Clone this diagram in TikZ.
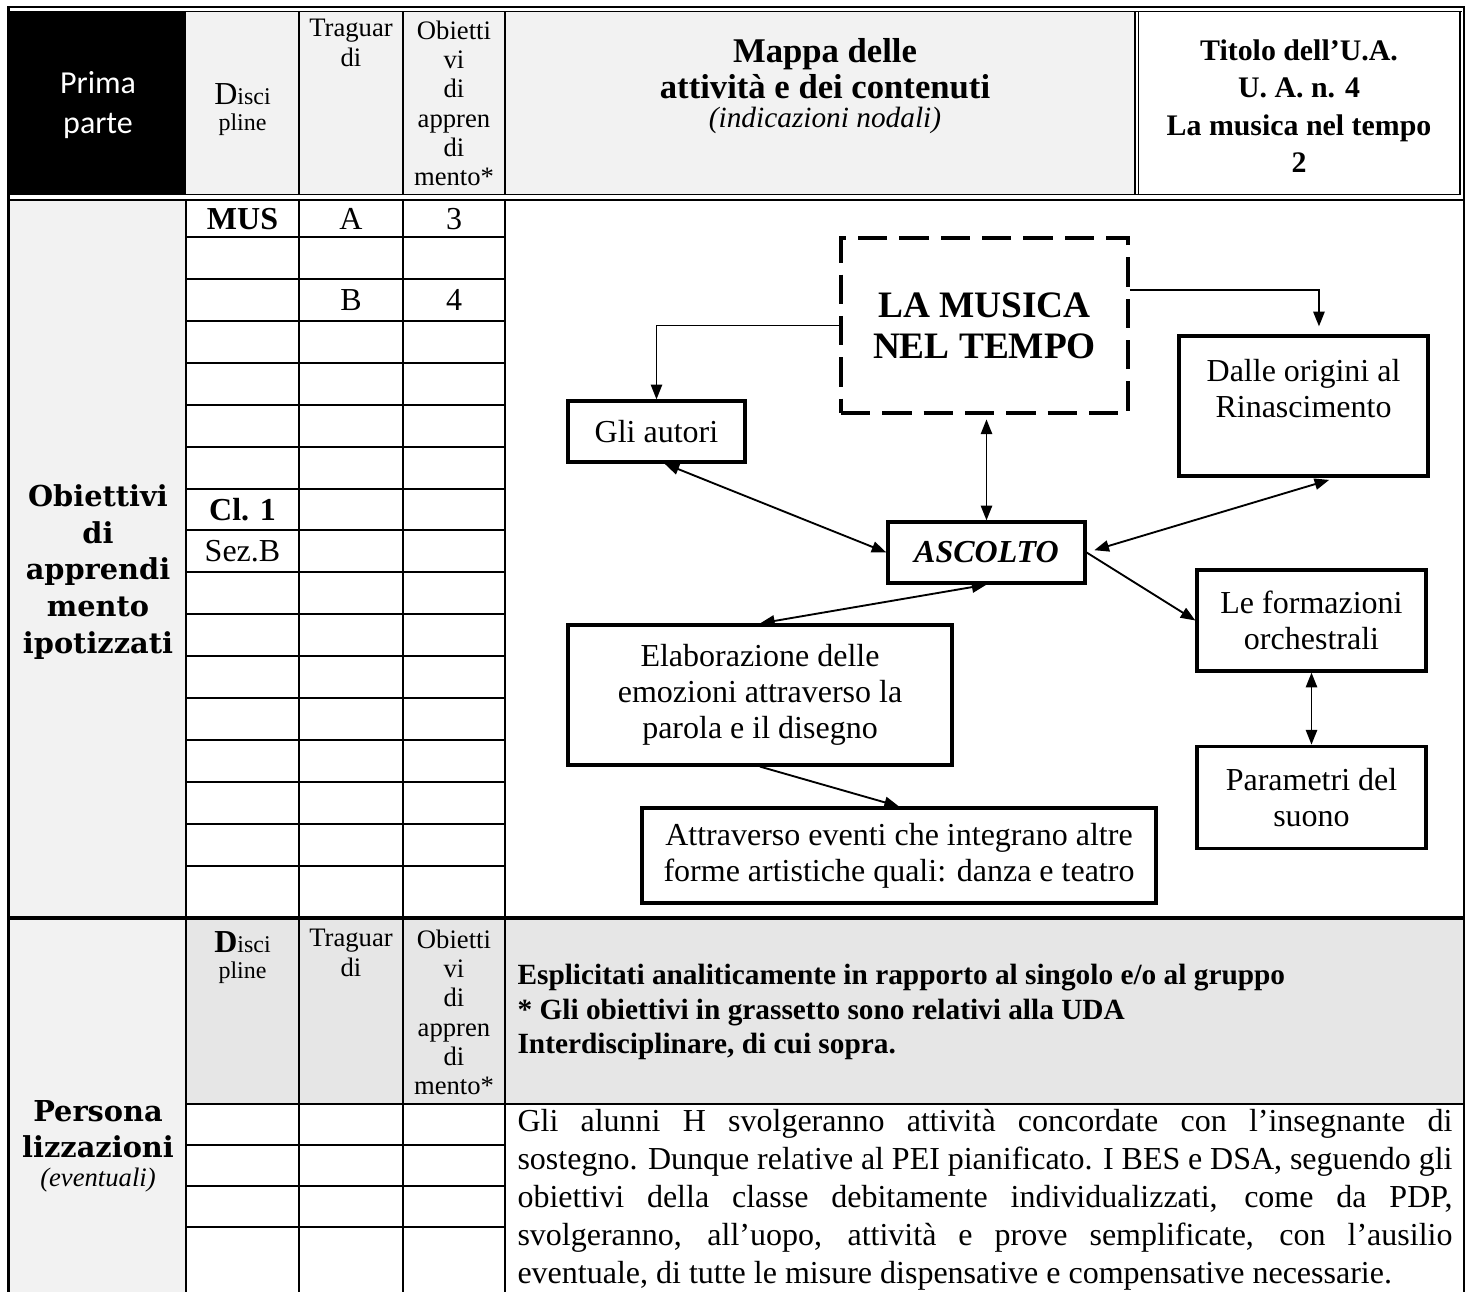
\documentclass[tikz,border=0pt]{standalone}
\usepackage{fontspec}
\setmainfont{Liberation Serif}
\newfontfamily\carlito{Carlito}
\newfontfamily\dejaserif{DejaVu Serif}
\usetikzlibrary{arrows.meta, positioning}
\definecolor{headgray}{HTML}{F2F2F2}
\definecolor{notegray}{HTML}{E6E6E6}
\NewDocumentCommand{\fsize}{mm}{\fontsize{#1}{#2}\selectfont}

\begin{document}
\begin{tikzpicture}[x=0.375pt, y=-0.375pt,
        box/.style = {draw, line width=1.2pt, align=center, inner sep=0pt,
                      font=\fsize{12}{13.5}},
        arr/.style = {line width=0.7pt, -{Triangle[length=5.5pt, width=4.2pt]}},
        both/.style = {line width=0.7pt,
                       {Triangle[length=5.5pt, width=4.2pt]}-{Triangle[length=5.5pt, width=4.2pt]}},
        rule/.style = {line width=1.1pt},
        thin/.style = {line width=0.75pt},
        cell/.style = {align=center, inner sep=0pt, font=\fsize{12}{13.8}},
        small/.style = {align=center, inner sep=0pt, font=\fsize{10}{11}}]
    \useasboundingbox (0,0) rectangle (1472,1292);

    % table background
    \fill[black] (10,11) rectangle (186,195);
    \fill[headgray] (186,11) rectangle (1136,195);
    \fill[headgray] (10,200) rectangle (186,1292);
    \fill[notegray] (186,918) rectangle (1463,1104);

    % table rules
    \draw[line width=0.9pt] (7,7) -- (1465,7);
    \draw[line width=0.45pt] (10,11.5) -- (1462,11.5);
    \draw[rule] (8.5,7) -- (8.5,1292);
    \draw[line width=0.8pt] (1464,7) -- (1464,1292);
    \draw[line width=0.4pt] (1460,11.5) -- (1460,194.5);
    \draw[line width=0.4pt] (1135,11.5) -- (1135,194.5);
    \draw[line width=0.4pt] (1138.5,11.5) -- (1138.5,194.5);
    \draw[line width=0.4pt] (10,194.5) -- (1460,194.5);
    \draw[rule] (8,200) -- (1464,200);
    \foreach \x in {299,403,505}
        \draw[rule] (\x,11.5) -- (\x,194.5);
    \foreach \x in {186,299,403,505}
        \draw[rule] (\x,200) -- (\x,1292);
    \foreach \y in {237,279,321,363,405,447,489,530,572,614,656,698,740,782,824,866}
        \draw[thin] (186,\y) -- (505,\y);
    \draw[line width=1.5pt] (8,918) -- (1464,918);
    \draw[rule] (186,1104) -- (1464,1104);
    \foreach \y in {1145,1186,1227}
        \draw[thin] (186,\y) -- (505,\y);

    % header texts
    \node[text=white, align=center, font=\carlito\fsize{12}{15}] (prima) at (98,105) {Prima\\parte};
    \node[align=center, inner sep=0pt, font=\fsize{9}{9.75}] (disc) at (242.5,110) {{\fsize{12}{9.75}D}isci\\pline};
    \node[small] (trag) at (351,43) {Traguar\\di};
    \node[small] (obie) at (454,103.5) {Obietti\\vi\\di\\appren\\di\\mento*};
    \node[align=center, inner sep=0pt, font=\bfseries\fsize{13}{13.5}] (mappa) at (825,69) {Mappa delle\\attività e dei contenuti};
    \node[inner sep=0pt, font=\itshape\fsize{11}{12}] (nodali) at (825,120) {(indicazioni nodali)};
    \node[align=center, inner sep=0pt, font=\bfseries\fsize{11.2}{14}] (titolo) at (1299,106) {Titolo dell’U.A.\\U. A. n. 4\\La musica nel tempo\\2};

    % left column
    \node[align=center, font=\dejaserif\bfseries\fsize{10.8}{13.7}] (obiettivi) at (98,572) {Obiettivi\\di\\apprendi\\mento\\ipotizzati};
    \node[align=center, font=\dejaserif\bfseries\fsize{10.8}{13.7}] (persona) at (98,1129) {Persona\\lizzazioni};
    \node[inner sep=0pt, font=\itshape\fsize{10}{11}] (eventuali) at (98,1180) {(eventuali)};

    % cells
    \node[cell, font=\bfseries\fsize{12}{13.8}] (MUS) at (242.5,219) {MUS};
    \node[cell] (A) at (351,219) {A};
    \node[cell] (3) at (454,219) {3};
    \node[cell] (B) at (351,300) {B};
    \node[cell] (4) at (454,300) {4};
    \node[cell, font=\bfseries\fsize{12}{13.8}] (cl) at (242.5,510) {Cl. 1};
    \node[cell] (sez) at (242.5,551) {Sez.B};

    % second part
    \node[align=center, inner sep=0pt, font=\fsize{9}{9.75}] (disc2) at (242.5,957.5) {{\bfseries\fsize{12}{9.75}D}isci\\pline};
    \node[small] (trag2) at (351,953) {Traguar\\di};
    \node[small] (obie2) at (454,1012.5) {Obietti\\vi\\di\\appren\\di\\mento*};
    \node[anchor=west, align=left, inner sep=0pt, font=\bfseries\fsize{11}{13}] (esplic) at (517,1012)
        {Esplicitati analiticamente in rapporto al singolo e/o al gruppo\\* Gli obiettivi in grassetto sono relativi alla UDA\\Interdisciplinare, di cui sopra.};
    \node[anchor=north west, text width=350.6pt, align=justify, inner sep=0pt, font=\fsize{12}{14.2}] (alunni) at (517,1109)
        {\hyphenpenalty=10000 Gli alunni H svolgeranno attività concordate con l’insegnante di\linebreak
         sostegno. Dunque relative al PEI pianificato. I BES e DSA, seguendo gli\linebreak
         obiettivi della classe debitamente individualizzati, come da PDP,\linebreak
         svolgeranno, all’uopo, attività e prove semplificate, con l’ausilio\linebreak
         eventuale, di tutte le misure dispensative e compensative necessarie.};

    % map
    \node[box, dash pattern=on 11pt off 4.5pt, line width=1.8pt, minimum width=107.6pt,
          minimum height=65.6pt, font=\bfseries\fsize{14}{15.4}] (musica) at (984.5,325.5) {LA MUSICA\\NEL TEMPO};
    \node[box, minimum width=66.4pt, minimum height=22.9pt] (autori) at (656.5,431.5) {Gli autori};
    \node[box, minimum width=93.4pt, minimum height=52.5pt] (origini) at (1303.5,406) {Dalle origini al\\Rinascimento\\~};
    \node[box, minimum width=73.9pt, minimum height=22.9pt, font=\bfseries\itshape\fsize{12}{13.5}] (ascolto) at (986.5,552.5) {ASCOLTO};
    \node[box, minimum width=85.9pt, minimum height=37.9pt] (formazioni) at (1311.5,620.5) {Le formazioni\\orchestrali};
    \node[box, minimum width=85.9pt, minimum height=38.3pt] (parametri) [below=27pt of formazioni] {Parametri del\\suono};
    \node[box, minimum width=144pt, minimum height=52.5pt] (emozioni) at (760,695) {Elaborazione delle\\emozioni attraverso la\\parola e il disegno};
    \node[box, minimum width=192.75pt, minimum height=35.6pt] (eventi) at (899,855.5) {Attraverso eventi che integrano altre\\forme artistiche quali: danza e teatro};

    \draw[arr] (musica.west) -| (autori.north);
    \draw[arr] ([yshift=13.3pt]musica.east) -| ([xshift=5.8pt, yshift=3pt]origini.north);
    \draw[both, shorten >=1.5pt] (ascolto.north) -- (ascolto.north |- musica.south);
    \draw[both] (autori.-76) -- (ascolto.west);
    \draw[both, shorten <=3pt, shorten >=3pt] (origini.-65) -- (ascolto.east);
    \draw[arr] (ascolto.east) -- (formazioni.west);
    \draw[both] (ascolto.south) -- (emozioni.north);
    \draw[arr] (emozioni.south) -- (eventi.north);
    \draw[both] (formazioni.south) -- (parametri.north);
\end{tikzpicture}
\end{document}
